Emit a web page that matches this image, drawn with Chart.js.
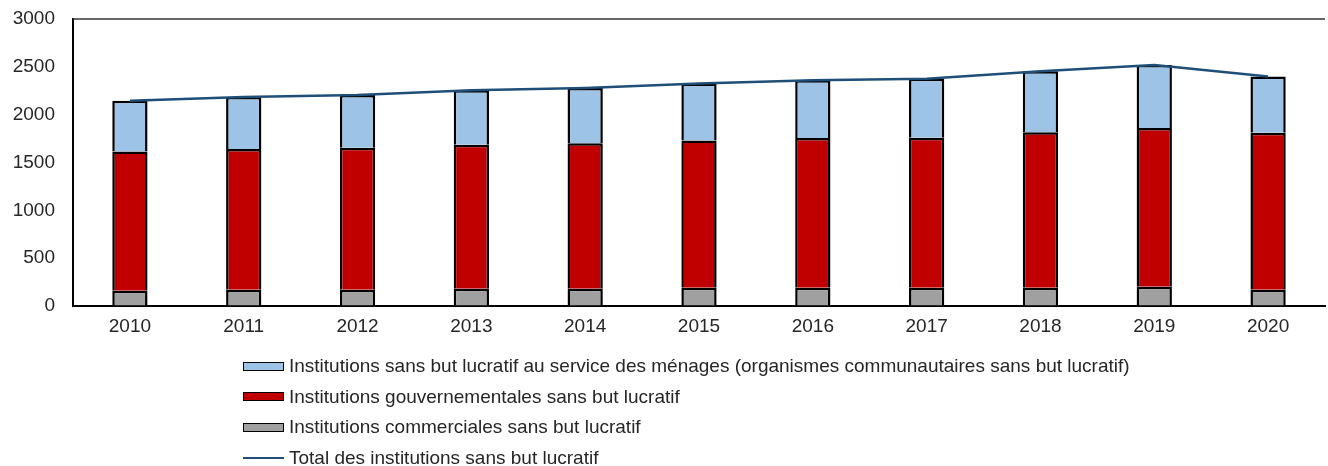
<!DOCTYPE html>
<html>
<head>
<meta charset="utf-8">
<script src="https://cdn.jsdelivr.net/npm/chart.js@4"></script>
<style>
  body { margin: 0; background: #fff; }
  #wrap { position: relative; width: 1328px; height: 466px; }
  #legende { position: absolute; left: 243px; top: 351px; font-family: "Liberation Sans", Arial, sans-serif; font-size: 19px; color: #262626; }
  .item { height: 30.5px; display: flex; align-items: center; }
  .boite { width: 39px; height: 7px; border: 1.5px solid #000; margin-right: 5px; }
  .trait { width: 41px; height: 2px; margin-right: 5px; }
</style>
</head>
<body>
<div id="wrap">
  <canvas id="graphique" width="1328" height="466"></canvas>
  <div id="legende"></div>
</div>
<script>
// données
const annees = ['2010', '2011', '2012', '2013', '2014', '2015', '2016', '2017', '2018', '2019', '2020'];
const commerciales = [160, 170, 170, 180, 180, 190, 190, 190, 190, 200, 170];
const gouvernementales = [1455, 1470, 1485, 1505, 1520, 1540, 1565, 1570, 1625, 1660, 1640];
const menages = [530, 545, 550, 570, 580, 595, 605, 615, 640, 660, 590];
const total = [2145, 2185, 2205, 2255, 2280, 2325, 2360, 2375, 2455, 2520, 2400];
const ticksY = [0, 500, 1000, 1500, 2000, 2500, 3000];

const police = { family: '"Liberation Sans", Arial, sans-serif', size: 19 };

const datasets = [
  { type: 'bar', label: 'Institutions commerciales sans but lucratif', data: commerciales, backgroundColor: '#A0A0A0', order: 1 },
  { type: 'bar', label: 'Institutions gouvernementales sans but lucratif', data: gouvernementales, backgroundColor: '#C00000', order: 1 },
  { type: 'bar', label: 'Institutions sans but lucratif au service des ménages (organismes communautaires sans but lucratif)', data: menages, backgroundColor: '#9DC3E6', order: 1 },
  { type: 'line', label: 'Total des institutions sans but lucratif', data: total, borderColor: '#1F4E79', borderWidth: 2.5, pointRadius: 0, tension: 0, stack: 'total', order: 0 }
];
datasets.forEach(d => {
  if (d.type === 'bar') {
    d.borderColor = '#000';
    d.borderWidth = 2.5;
    d.barPercentage = 0.31;
    d.categoryPercentage = 1;
  }
});

// trait du haut du cadre
const cadreHaut = {
  id: 'cadreHaut',
  afterDraw(chart) {
    const a = chart.chartArea;
    const c = chart.ctx;
    c.save();
    c.strokeStyle = '#333';
    c.lineWidth = 1.5;
    c.beginPath();
    c.moveTo(a.left, a.top);
    c.lineTo(a.right, a.top);
    c.stroke();
    c.restore();
  }
};

const ctx = document.getElementById('graphique').getContext('2d');
new Chart(ctx, {
  data: { labels: annees, datasets: datasets },
  options: {
    responsive: false,
    animation: false,
    layout: { padding: { top: 19, right: 3, left: 0, bottom: 0 } },
    plugins: { legend: { display: false }, tooltip: { enabled: false } },
    scales: {
      x: {
        stacked: true,
        grid: { display: false, drawTicks: false },
        border: { color: '#000', width: 2 },
        ticks: { color: '#262626', font: police, padding: 9, maxRotation: 0 },
        afterFit: s => { s.height = 160; }
      },
      y: {
        stacked: true,
        min: 0,
        max: 3000,
        grid: { drawOnChartArea: false, drawTicks: true, tickLength: 18, tickColor: 'rgba(0,0,0,0)' },
        border: { color: '#000', width: 2 },
        afterBuildTicks: s => { s.ticks = ticksY.map(v => ({ value: v })); },
        ticks: { color: '#262626', font: police, padding: 0, callback: v => String(v) },
        afterFit: s => { s.width = 73; }
      }
    }
  },
  plugins: [cadreHaut]
});

// légende verticale sous le graphique
const legende = document.getElementById('legende');
[2, 1, 0, 3].forEach(i => {
  const d = datasets[i];
  const item = document.createElement('div');
  item.className = 'item';
  const marque = document.createElement('span');
  if (d.type === 'bar') {
    marque.className = 'boite';
    marque.style.background = d.backgroundColor;
  } else {
    marque.className = 'trait';
    marque.style.background = d.borderColor;
  }
  const texte = document.createElement('span');
  texte.textContent = d.label;
  item.appendChild(marque);
  item.appendChild(texte);
  legende.appendChild(item);
});
</script>
</body>
</html>
